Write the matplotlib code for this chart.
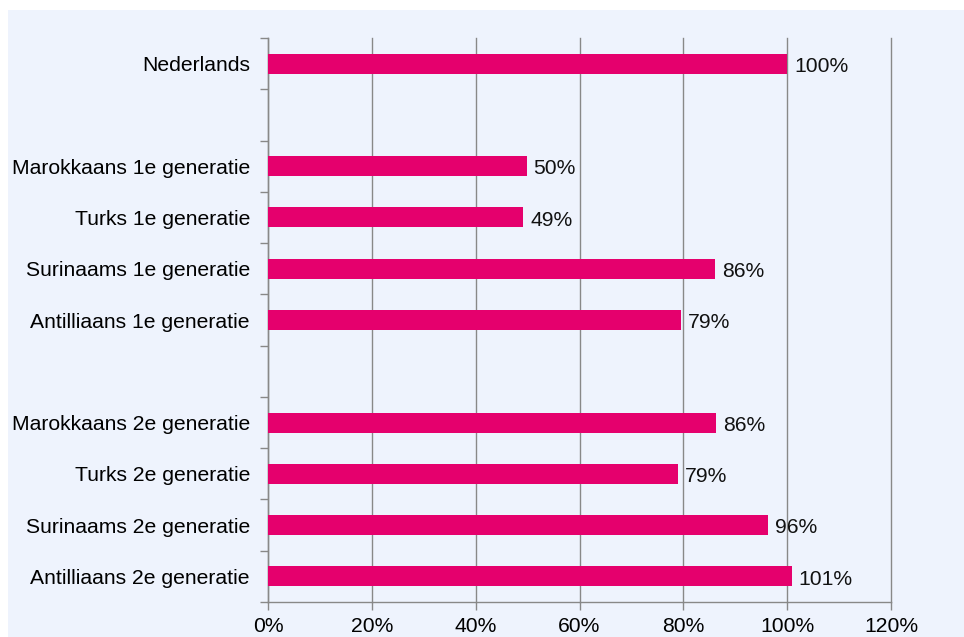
import matplotlib.pyplot as plt
import numpy as np

# categories from top to bottom, '' = empty spacer row
categories = ['Nederlands', '',
              'Marokkaans 1e generatie', 'Turks 1e generatie',
              'Surinaams 1e generatie', 'Antilliaans 1e generatie', '',
              'Marokkaans 2e generatie', 'Turks 2e generatie',
              'Surinaams 2e generatie', 'Antilliaans 2e generatie']
values = [100, None, 49.8, 49.2, 86.1, 79.5, None, 86.3, 79.0, 96.3, 100.9]
labels = ['100%', '', '50%', '49%', '86%', '79%', '', '86%', '79%', '96%', '101%']
x_ticks = [0, 20, 40, 60, 80, 100, 120]

plt.rcParams['font.family'] = ['Liberation Sans', 'DejaVu Sans']
fs = 15.2

fig = plt.figure(figsize=(9.64, 6.37), dpi=100)
fig.patch.set_facecolor('white')
# light blue panel behind the chart
fig.patches.append(plt.Rectangle((8 / 964, 0), 1 - 8 / 964, 1 - 10 / 637,
                                 transform=fig.transFigure, facecolor='#EEF3FD',
                                 edgecolor='none', zorder=-10))

ax = fig.add_axes([268 / 964, 1 - 602 / 637, (891 - 268) / 964, (602 - 38) / 637])
ax.set_facecolor('none')

n = len(categories)
ypos = np.arange(n)
for y, v, lab in zip(ypos, values, labels):
    if v is None:
        continue
    ax.barh(y, v, height=0.39, color='#E5006D', zorder=3)
    ax.annotate(lab, (v, y), xytext=(5, -2), textcoords='offset points',
                va='center', ha='left', fontsize=fs, color='#111111')

ax.set_xlim(0, 120)
ax.set_ylim(n - 0.5, -0.5)
ax.set_xticks(x_ticks)
ax.set_xticklabels([f'{t}%' for t in x_ticks], fontsize=fs)
ax.set_yticks(ypos)
ax.set_yticklabels(categories, fontsize=fs)
ax.set_yticks(np.arange(n + 1) - 0.5, minor=True)
ax.tick_params(axis='y', which='major', length=0, pad=13)
ax.tick_params(axis='y', which='minor', length=6, color='#888888', width=1)
ax.tick_params(axis='x', length=6, color='#888888', width=1, pad=5)

ax.grid(axis='x', color='#888888', linewidth=1, zorder=1)
for gl in ax.get_xgridlines():
    gl.set_clip_on(False)
for s in ['top', 'right']:
    ax.spines[s].set_visible(False)
for s in ['left', 'bottom']:
    ax.spines[s].set_color('#888888')
    ax.spines[s].set_linewidth(1)

fig.savefig('out.png', dpi=100)
